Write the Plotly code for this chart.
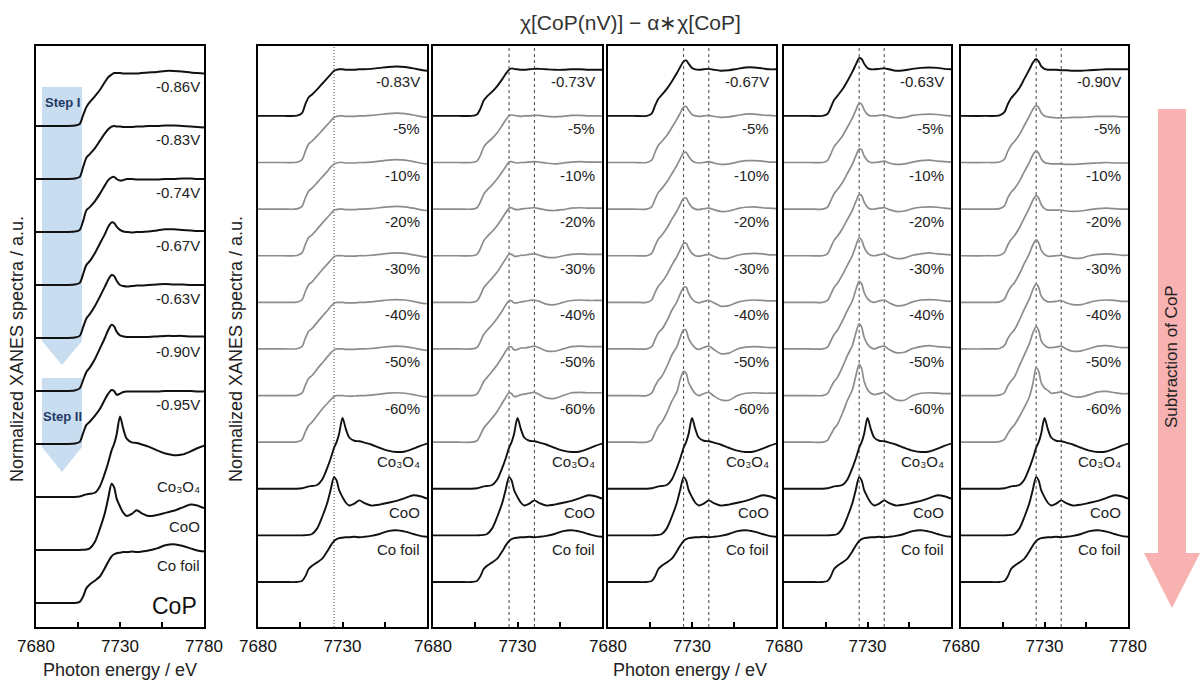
import plotly.graph_objects as go

W, H = 1201, 689

# ---------------- data ----------------
energy = [7680, 7695, 7703, 7706, 7708, 7710, 7712, 7715, 7718, 7721, 7723, 7725, 7726.5, 7728,
          7730, 7732, 7734, 7737, 7740, 7743, 7747, 7752, 7757, 7762, 7767, 7772, 7776, 7780]

# left panel: CoP catalyst under potentials
cop_labels = ["-0.86V", "-0.83V", "-0.74V", "-0.67V", "-0.63V", "-0.90V", "-0.95V"]
cop_086 = [0, 0, 0.01, 0.04, 0.20, 0.36, 0.45, 0.56, 0.68, 0.83, 0.92, 0.97, 1.00, 1.00, 1.00, 0.99, 0.99, 0.99, 0.99, 1.00, 1.01, 1.02, 1.04, 1.04, 1.03, 1.01, 1.00, 0.99]
cop_083 = [0, 0, 0.01, 0.04, 0.22, 0.40, 0.47, 0.58, 0.72, 0.86, 0.94, 0.99, 1.00, 0.99, 0.99, 0.98, 0.98, 0.98, 0.99, 0.99, 1.00, 1.00, 1.01, 1.01, 1.00, 0.99, 0.98, 0.97]
cop_074 = [0, 0, 0.01, 0.04, 0.20, 0.41, 0.47, 0.58, 0.72, 0.88, 0.98, 1.03, 1.04, 1.00, 0.97, 0.98, 1.00, 1.00, 0.99, 0.99, 0.99, 0.99, 1.00, 1.00, 1.01, 1.01, 1.00, 1.00]
cop_067 = [0, 0, 0.01, 0.04, 0.20, 0.38, 0.45, 0.60, 0.78, 0.96, 1.10, 1.18, 1.17, 1.10, 1.04, 1.01, 1.00, 0.99, 1.00, 1.00, 1.01, 1.03, 1.05, 1.05, 1.04, 1.03, 1.02, 1.02]
cop_063 = [0, 0, 0.01, 0.04, 0.20, 0.37, 0.45, 0.60, 0.78, 0.97, 1.10, 1.19, 1.17, 1.08, 1.00, 0.98, 0.97, 0.98, 0.99, 0.99, 1.00, 1.01, 1.02, 1.01, 1.01, 1.00, 1.00, 1.00]
cop_090 = [0, 0, 0.01, 0.05, 0.20, 0.36, 0.44, 0.60, 0.80, 1.00, 1.15, 1.25, 1.22, 1.12, 1.05, 1.03, 1.02, 1.02, 1.02, 1.02, 1.02, 1.03, 1.04, 1.04, 1.04, 1.03, 1.03, 1.03]
cop_095 = [0, 0, 0.01, 0.04, 0.20, 0.36, 0.42, 0.53, 0.66, 0.84, 0.95, 1.02, 1.00, 0.93, 0.95, 0.98, 0.99, 0.99, 0.99, 0.99, 0.99, 0.99, 1.00, 1.00, 1.00, 1.00, 0.99, 0.99]

# reference spectra
ref_labels = ["Co₃O₄", "CoO", "Co foil"]
ref_co3o4 = [0, 0, 0, 0.01, 0.03, 0.05, 0.06, 0.08, 0.20, 0.45, 0.65, 0.88, 1.00, 1.18, 1.52, 1.28, 1.10, 1.03, 1.02, 0.99, 0.95, 0.88, 0.82, 0.79, 0.80, 0.86, 0.92, 0.97]
ref_coo = [0, 0, 0, 0, 0.005, 0.01, 0.03, 0.15, 0.40, 0.70, 0.98, 1.25, 1.18, 0.97, 0.82, 0.70, 0.64, 0.68, 0.75, 0.69, 0.64, 0.66, 0.70, 0.74, 0.80, 0.86, 0.84, 0.79]
ref_cofoil = [0, 0, 0, 0.02, 0.12, 0.28, 0.35, 0.42, 0.50, 0.66, 0.78, 0.88, 0.92, 0.94, 0.95, 0.96, 0.96, 0.97, 0.96, 0.97, 0.99, 1.03, 1.09, 1.11, 1.08, 1.03, 0.99, 0.97]

# subtraction panels
sub_labels = ["-5%", "-10%", "-20%", "-30%", "-40%", "-50%", "-60%"]
panel_voltages = ["-0.83V", "-0.73V", "-0.67V", "-0.63V", "-0.90V"]

p083_top = [0, 0, 0.005, 0.06, 0.25, 0.40, 0.46, 0.57, 0.69, 0.81, 0.89, 0.97, 0.99, 1.00, 1.00, 0.99, 0.99, 0.99, 1.00, 1.00, 1.01, 1.03, 1.05, 1.06, 1.05, 1.02, 0.99, 0.97]
p083_05 = [0, 0, 0.005, 0.06, 0.24, 0.40, 0.46, 0.57, 0.69, 0.81, 0.89, 0.97, 0.99, 1.00, 1.00, 0.99, 0.99, 0.99, 1.00, 1.00, 1.01, 1.03, 1.05, 1.06, 1.05, 1.02, 0.99, 0.97]
p083_10 = [0, 0, 0.005, 0.06, 0.24, 0.39, 0.45, 0.57, 0.69, 0.81, 0.90, 0.97, 0.99, 1.00, 1.00, 0.99, 0.99, 0.99, 1.00, 1.00, 1.01, 1.03, 1.05, 1.06, 1.05, 1.02, 0.99, 0.97]
p083_20 = [0, 0, 0.005, 0.06, 0.24, 0.39, 0.45, 0.57, 0.70, 0.82, 0.90, 0.98, 0.99, 1.00, 1.00, 0.99, 0.99, 0.99, 1.00, 1.00, 1.01, 1.03, 1.05, 1.06, 1.05, 1.02, 0.99, 0.97]
p083_30 = [0, 0, 0.005, 0.05, 0.23, 0.38, 0.44, 0.57, 0.70, 0.82, 0.90, 0.98, 1.00, 1.00, 1.00, 0.99, 0.99, 0.99, 1.00, 1.00, 1.01, 1.03, 1.05, 1.06, 1.05, 1.02, 0.99, 0.97]
p083_40 = [0, 0, 0.005, 0.05, 0.23, 0.38, 0.44, 0.57, 0.70, 0.82, 0.91, 0.98, 1.00, 1.00, 1.00, 0.99, 0.99, 0.99, 1.00, 1.00, 1.01, 1.03, 1.05, 1.06, 1.05, 1.02, 0.99, 0.97]
p083_50 = [0, 0, 0.005, 0.05, 0.22, 0.37, 0.43, 0.57, 0.70, 0.83, 0.91, 0.98, 1.00, 1.00, 1.00, 0.99, 0.99, 0.99, 1.00, 1.00, 1.01, 1.03, 1.05, 1.06, 1.05, 1.02, 0.99, 0.97]
p083_60 = [0, 0, 0.005, 0.05, 0.22, 0.36, 0.43, 0.57, 0.71, 0.83, 0.91, 0.98, 1.00, 1.00, 1.00, 0.99, 0.99, 0.99, 1.00, 1.00, 1.01, 1.03, 1.05, 1.06, 1.05, 1.02, 0.99, 0.97]

p073_top = [0, 0, 0, 0.03, 0.15, 0.33, 0.42, 0.52, 0.64, 0.79, 0.90, 0.99, 1.02, 1.01, 1.00, 0.99, 0.99, 1.00, 1.01, 1.01, 1.00, 0.99, 0.99, 1.00, 1.00, 0.99, 0.99, 0.99]
p073_05 = [0, 0, 0, 0.03, 0.15, 0.33, 0.42, 0.52, 0.64, 0.80, 0.91, 1.00, 1.02, 1.01, 1.00, 0.99, 1.00, 1.00, 1.01, 1.01, 0.99, 0.98, 0.99, 1.01, 1.01, 1.00, 1.00, 1.00]
p073_10 = [0, 0, 0, 0.03, 0.15, 0.32, 0.41, 0.52, 0.65, 0.80, 0.91, 1.01, 1.02, 1.00, 0.99, 1.00, 1.00, 1.01, 1.02, 1.01, 0.99, 0.97, 0.99, 1.01, 1.02, 1.01, 1.01, 1.01]
p073_20 = [0, 0, 0, 0.03, 0.15, 0.32, 0.41, 0.52, 0.65, 0.81, 0.92, 1.02, 1.03, 1.00, 0.99, 1.00, 1.01, 1.02, 1.03, 1.01, 0.98, 0.97, 0.99, 1.02, 1.03, 1.02, 1.02, 1.02]
p073_30 = [0, 0, 0, 0.03, 0.15, 0.31, 0.40, 0.52, 0.65, 0.82, 0.93, 1.03, 1.03, 0.99, 0.99, 1.01, 1.01, 1.03, 1.04, 1.01, 0.97, 0.96, 1.00, 1.03, 1.04, 1.03, 1.03, 1.03]
p073_40 = [0, 0, 0, 0.03, 0.15, 0.31, 0.40, 0.52, 0.66, 0.82, 0.94, 1.04, 1.03, 0.99, 0.99, 1.01, 1.02, 1.04, 1.05, 1.02, 0.96, 0.95, 1.00, 1.04, 1.05, 1.04, 1.04, 1.04]
p073_50 = [0, 0, 0, 0.03, 0.15, 0.30, 0.39, 0.52, 0.66, 0.83, 0.95, 1.05, 1.04, 0.98, 0.99, 1.02, 1.02, 1.04, 1.06, 1.02, 0.96, 0.95, 1.00, 1.05, 1.06, 1.05, 1.05, 1.05]
p073_60 = [0, 0, 0, 0.03, 0.15, 0.30, 0.39, 0.52, 0.66, 0.84, 0.96, 1.06, 1.04, 0.98, 0.99, 1.02, 1.03, 1.05, 1.07, 1.02, 0.95, 0.94, 1.00, 1.06, 1.07, 1.06, 1.06, 1.06]

p067_top = [0, 0, 0, 0.05, 0.22, 0.37, 0.45, 0.58, 0.74, 0.92, 1.05, 1.17, 1.19, 1.12, 1.03, 1.00, 0.99, 1.00, 1.01, 0.99, 0.97, 0.98, 1.01, 1.04, 1.04, 1.02, 1.00, 1.00]
p067_05 = [0, 0, 0, 0.05, 0.22, 0.37, 0.45, 0.58, 0.75, 0.93, 1.06, 1.19, 1.20, 1.12, 1.03, 1.00, 0.99, 1.00, 1.01, 0.99, 0.97, 0.98, 1.01, 1.04, 1.04, 1.02, 1.01, 1.00]
p067_10 = [0, 0, 0, 0.05, 0.21, 0.36, 0.44, 0.58, 0.76, 0.94, 1.08, 1.21, 1.22, 1.13, 1.04, 1.00, 0.99, 1.00, 1.02, 0.99, 0.96, 0.97, 1.01, 1.04, 1.04, 1.03, 1.01, 1.01]
p067_20 = [0, 0, 0, 0.05, 0.21, 0.36, 0.44, 0.59, 0.78, 0.96, 1.10, 1.23, 1.24, 1.14, 1.04, 1.00, 0.99, 1.01, 1.02, 0.99, 0.95, 0.96, 1.01, 1.04, 1.05, 1.03, 1.02, 1.01]
p067_30 = [0, 0, 0, 0.05, 0.21, 0.35, 0.43, 0.59, 0.80, 0.98, 1.13, 1.26, 1.27, 1.16, 1.05, 1.00, 0.99, 1.01, 1.03, 0.99, 0.94, 0.95, 1.01, 1.04, 1.05, 1.04, 1.02, 1.02]
p067_40 = [0, 0, 0, 0.05, 0.20, 0.35, 0.42, 0.60, 0.83, 1.01, 1.18, 1.32, 1.33, 1.19, 1.07, 1.01, 0.99, 1.02, 1.04, 0.99, 0.92, 0.93, 1.00, 1.04, 1.05, 1.04, 1.03, 1.03]
p067_50 = [0, 0, 0, 0.05, 0.20, 0.33, 0.41, 0.62, 0.87, 1.05, 1.25, 1.41, 1.40, 1.22, 1.10, 1.02, 0.99, 1.03, 1.06, 0.99, 0.90, 0.91, 1.00, 1.04, 1.05, 1.04, 1.03, 1.03]
p067_60 = [0, 0, 0, 0.05, 0.20, 0.34, 0.43, 0.63, 0.88, 1.08, 1.35, 1.52, 1.48, 1.28, 1.14, 1.04, 1.00, 1.04, 1.07, 0.99, 0.91, 0.90, 1.00, 1.05, 1.06, 1.05, 1.05, 1.05]

p063_top = [0, 0, 0, 0.04, 0.18, 0.34, 0.43, 0.57, 0.75, 0.95, 1.10, 1.24, 1.22, 1.12, 1.03, 1.00, 1.00, 1.01, 1.02, 1.00, 0.97, 0.98, 1.01, 1.03, 1.04, 1.03, 1.01, 1.00]
p063_05 = [0, 0, 0, 0.04, 0.18, 0.34, 0.43, 0.57, 0.76, 0.96, 1.12, 1.27, 1.25, 1.13, 1.03, 1.00, 1.00, 1.01, 1.02, 0.99, 0.96, 0.97, 1.01, 1.03, 1.04, 1.03, 1.01, 1.00]
p063_10 = [0, 0, 0, 0.04, 0.18, 0.33, 0.42, 0.57, 0.77, 0.97, 1.14, 1.29, 1.27, 1.14, 1.04, 1.00, 1.00, 1.01, 1.03, 0.99, 0.96, 0.97, 1.01, 1.04, 1.05, 1.03, 1.02, 1.01]
p063_20 = [0, 0, 0, 0.04, 0.18, 0.33, 0.42, 0.58, 0.78, 0.98, 1.16, 1.31, 1.29, 1.15, 1.04, 1.00, 1.00, 1.02, 1.03, 0.99, 0.95, 0.96, 1.01, 1.04, 1.05, 1.04, 1.02, 1.01]
p063_30 = [0, 0, 0, 0.04, 0.17, 0.32, 0.41, 0.59, 0.80, 1.01, 1.21, 1.38, 1.34, 1.18, 1.06, 1.01, 1.00, 1.02, 1.04, 0.99, 0.94, 0.95, 1.01, 1.04, 1.06, 1.04, 1.03, 1.02]
p063_40 = [0, 0, 0, 0.04, 0.17, 0.31, 0.40, 0.60, 0.83, 1.04, 1.27, 1.45, 1.40, 1.21, 1.08, 1.02, 1.00, 1.03, 1.05, 0.99, 0.93, 0.94, 1.01, 1.05, 1.06, 1.05, 1.03, 1.02]
p063_50 = [0, 0, 0, 0.04, 0.17, 0.30, 0.39, 0.61, 0.86, 1.08, 1.34, 1.54, 1.47, 1.25, 1.10, 1.03, 1.00, 1.04, 1.06, 0.99, 0.92, 0.93, 1.01, 1.05, 1.07, 1.05, 1.04, 1.03]
p063_60 = [0, 0, 0, 0.04, 0.16, 0.29, 0.38, 0.62, 0.90, 1.13, 1.42, 1.67, 1.58, 1.30, 1.13, 1.05, 1.02, 1.04, 1.07, 1.00, 0.91, 0.90, 1.00, 1.05, 1.06, 1.05, 1.04, 1.04]

p090_top = [0, 0, 0.01, 0.08, 0.25, 0.38, 0.46, 0.60, 0.80, 1.00, 1.14, 1.22, 1.17, 1.07, 1.01, 0.99, 0.99, 0.99, 0.98, 0.98, 0.97, 0.97, 0.98, 0.99, 1.00, 1.00, 1.00, 1.00]
p090_05 = [0, 0, 0.01, 0.07, 0.24, 0.37, 0.45, 0.60, 0.80, 1.00, 1.14, 1.22, 1.18, 1.07, 1.00, 0.98, 0.97, 0.96, 0.96, 0.96, 0.97, 0.97, 0.98, 0.99, 0.99, 0.99, 0.98, 0.98]
p090_10 = [0, 0, 0.01, 0.07, 0.24, 0.36, 0.44, 0.60, 0.81, 1.01, 1.16, 1.25, 1.20, 1.08, 1.00, 0.98, 0.97, 0.97, 0.97, 0.96, 0.96, 0.97, 0.98, 0.99, 1.00, 0.99, 0.99, 0.99]
p090_20 = [0, 0, 0.01, 0.07, 0.23, 0.35, 0.43, 0.60, 0.82, 1.03, 1.19, 1.29, 1.24, 1.10, 1.01, 0.98, 0.98, 0.98, 0.98, 0.96, 0.95, 0.96, 0.99, 1.01, 1.02, 1.01, 1.00, 1.00]
p090_30 = [0, 0, 0.01, 0.07, 0.22, 0.34, 0.42, 0.61, 0.84, 1.05, 1.23, 1.34, 1.28, 1.12, 1.03, 0.99, 0.99, 1.00, 1.01, 0.98, 0.95, 0.95, 1.00, 1.03, 1.04, 1.03, 1.01, 1.01]
p090_40 = [0, 0, 0.01, 0.07, 0.22, 0.33, 0.41, 0.62, 0.86, 1.08, 1.27, 1.39, 1.32, 1.14, 1.05, 1.01, 1.01, 1.02, 1.04, 0.99, 0.95, 0.95, 1.00, 1.04, 1.05, 1.04, 1.02, 1.02]
p090_50 = [0, 0, 0.01, 0.06, 0.21, 0.31, 0.40, 0.64, 0.88, 1.12, 1.34, 1.48, 1.40, 1.18, 1.08, 1.03, 1.03, 1.04, 1.06, 1.00, 0.95, 0.96, 1.01, 1.06, 1.07, 1.05, 1.03, 1.03]
p090_60 = [0, 0, 0.01, 0.06, 0.18, 0.29, 0.37, 0.55, 0.75, 0.98, 1.25, 1.60, 1.52, 1.28, 1.16, 1.11, 1.05, 1.06, 1.08, 1.03, 0.98, 0.97, 1.02, 1.08, 1.09, 1.06, 1.04, 1.04]

panel_series = [
    [p083_top, p083_05, p083_10, p083_20, p083_30, p083_40, p083_50, p083_60],
    [p073_top, p073_05, p073_10, p073_20, p073_30, p073_40, p073_50, p073_60],
    [p067_top, p067_05, p067_10, p067_20, p067_30, p067_40, p067_50, p067_60],
    [p063_top, p063_05, p063_10, p063_20, p063_30, p063_40, p063_50, p063_60],
    [p090_top, p090_05, p090_10, p090_20, p090_30, p090_40, p090_50, p090_60],
]
marker_energies = [[7725], [7725, 7740], [7725, 7740], [7725, 7740], [7725, 7740]]

tick_full = [7680, 7730, 7780]
tick_mid = [7680, 7730]
tick_minor = [7705, 7755]

# ---------------- layout geometry (pixels) ----------------
FONT = "Liberation Sans"
left_dom = (36, 204)
main_doms = [(258, 427), (433, 602), (608, 776), (784, 951), (961, 1128)]
top_px, bot_px = 46, 627
left_range = [-0.453, 10.51]
main_range = [-0.966, 11.50]

BLACK = "#111111"
GRAY = "#8c8c8c"


def xp(px):
    return px / W


def yp(py):
    return 1 - py / H


fig = go.Figure()
layout = dict(
    width=W, height=H, margin=dict(l=0, r=0, t=0, b=0, pad=0, autoexpand=False),
    paper_bgcolor="white", plot_bgcolor="rgba(0,0,0,0)",
    showlegend=False, font=dict(family=FONT, color="#111"),
)
annotations = []
shapes = []


def axes(n, dom, yrange, tickvals):
    sfx = "" if n == 1 else str(n)
    layout["xaxis" + sfx] = dict(
        domain=[xp(dom[0]), xp(dom[1])], range=[7680, 7780], anchor="y" + sfx,
        showline=True, mirror=True, linecolor="black", linewidth=2,
        showgrid=False, zeroline=False, ticks="inside", ticklen=5, tickwidth=1.5,
        tickcolor="black", tickmode="array", tickvals=tickvals,
        ticktext=[str(v) for v in tickvals], automargin=False,
        tickfont=dict(family=FONT, size=17, color="#111"), ticklabelstandoff=3,
        minor=dict(tickmode="array", tickvals=tick_minor, ticks="inside", ticklen=5,
                   tickwidth=1.5, tickcolor="black", showgrid=False),
    )
    layout["yaxis" + sfx] = dict(
        domain=[yp(bot_px), yp(top_px)], range=yrange, anchor="x" + sfx,
        showline=True, mirror=True, linecolor="black", linewidth=2, automargin=False,
        showgrid=False, zeroline=False, showticklabels=False, ticks="",
    )
    return "x" + sfx, "y" + sfx


def add_curve(xa, ya, vals, off, color, width):
    fig.add_trace(go.Scatter(
        x=energy, y=[v + off for v in vals], mode="lines", xaxis=xa, yaxis=ya,
        line=dict(color=color, width=width, shape="spline", smoothing=0.8),
        hoverinfo="skip", showlegend=False,
    ))


def add_label(n, text, yval, shift):
    sfx = "" if n == 1 else str(n)
    annotations.append(dict(
        text=text, xref="x" + sfx + " domain", x=1, xanchor="right", xshift=-shift,
        yref="y" + sfx, y=yval, yanchor="middle", showarrow=False,
        font=dict(family=FONT, size=15, color="#222"),
    ))


# ---------- left panel ----------
xa, ya = axes(1, left_dom, left_range, tick_full)
left_curves = [cop_086, cop_083, cop_074, cop_067, cop_063, cop_090, cop_095]
n_left = len(left_curves) + 3
left_ref_dy = [0.19, 0.45, 0.70]
for i, vals in enumerate(left_curves):
    off = n_left - 1 - i
    add_curve(xa, ya, vals, off, BLACK, 2)
    add_label(1, cop_labels[i], off + 0.75, 2)
for j, vals in enumerate([ref_co3o4, ref_coo, ref_cofoil]):
    off = 2 - j
    add_curve(xa, ya, vals, off, BLACK, 2)
    add_label(1, ref_labels[j], off + left_ref_dy[j], 2)

# ---------- subtraction panels ----------
main_ref_dy = [0.58, 0.50, 0.69]
for p, dom in enumerate(main_doms):
    n = p + 2
    last = p == len(main_doms) - 1
    xa, ya = axes(n, dom, main_range, tick_full if last else tick_mid)
    series = panel_series[p]
    n_tot = len(series) + 3
    for k, e in enumerate(marker_energies[p]):
        shapes.append(dict(
            type="line", xref=xa, x0=e, x1=e, yref=ya + " domain", y0=0, y1=1,
            line=dict(color="#444", width=1, dash="1px,2px" if p == 0 else "3px,3px"),
            layer="below",
        ))
    for i, vals in enumerate(series):
        off = n_tot - 1 - i
        add_curve(xa, ya, vals, off, BLACK if i == 0 else GRAY, 1.9 if i == 0 else 1.7)
        label = panel_voltages[p] if i == 0 else sub_labels[i - 1]
        add_label(n, label, off + 0.73, 5)
    for j, vals in enumerate([ref_co3o4, ref_coo, ref_cofoil]):
        off = 2 - j
        add_curve(xa, ya, vals, off, BLACK, 1.9)
        add_label(n, ref_labels[j], off + main_ref_dy[j], 5)


# ---------- decorations ----------
def path(points):
    return "M " + " L ".join(f"{xp(a):.5f},{yp(b):.5f}" for a, b in points) + " Z"


BLUE = "#C9DDF0"
shapes.append(dict(type="path", xref="paper", yref="paper", layer="below",
                   path=path([(42, 87), (82, 87), (82, 341), (62, 365), (42, 341)]),
                   fillcolor=BLUE, line=dict(width=0)))
shapes.append(dict(type="path", xref="paper", yref="paper", layer="below",
                   path=path([(42, 378), (82, 378), (82, 447), (62, 472), (42, 447)]),
                   fillcolor=BLUE, line=dict(width=0)))
shapes.append(dict(type="path", xref="paper", yref="paper", layer="below",
                   path=path([(1158, 109), (1186, 109), (1186, 553), (1200, 553), (1172, 608),
                              (1144, 553), (1158, 553)]),
                   fillcolor="#F8B2B2", line=dict(width=0)))


def paper_text(text, x, y, size, angle=0, color="#222", bold=False, family=FONT):
    annotations.append(dict(
        text=f"<b>{text}</b>" if bold else text, xref="paper", yref="paper",
        x=xp(x), y=yp(y), xanchor="center", yanchor="middle", showarrow=False,
        textangle=angle, font=dict(family=family, size=size, color=color),
    ))


paper_text("Step I", 62, 102, 13, color="#1F3A66", bold=True)
paper_text("Step II", 62, 416, 13, color="#1F3A66", bold=True)
paper_text("CoP", 175, 606, 23, color="#111")
paper_text("χ[CoP(nV)] − α∗χ[CoP]", 630, 23, 21, color="#333")
paper_text("Normalized XANES spectra / a.u.", 17, 349, 18, angle=-90)
paper_text("Normalized XANES spectra / a.u.", 236, 349, 18, angle=-90)
paper_text("Photon energy / eV", 120, 670, 18)
paper_text("Photon energy / eV", 690, 670, 18)
paper_text("Subtraction of CoP", 1171, 357, 17, angle=-90)

layout["annotations"] = annotations
layout["shapes"] = shapes
fig.update_layout(**layout)

fig.write_html("out.html", config={"displayModeBar": False, "responsive": False},
               post_script="document.body.style.margin='0';document.body.style.overflow='hidden';")
